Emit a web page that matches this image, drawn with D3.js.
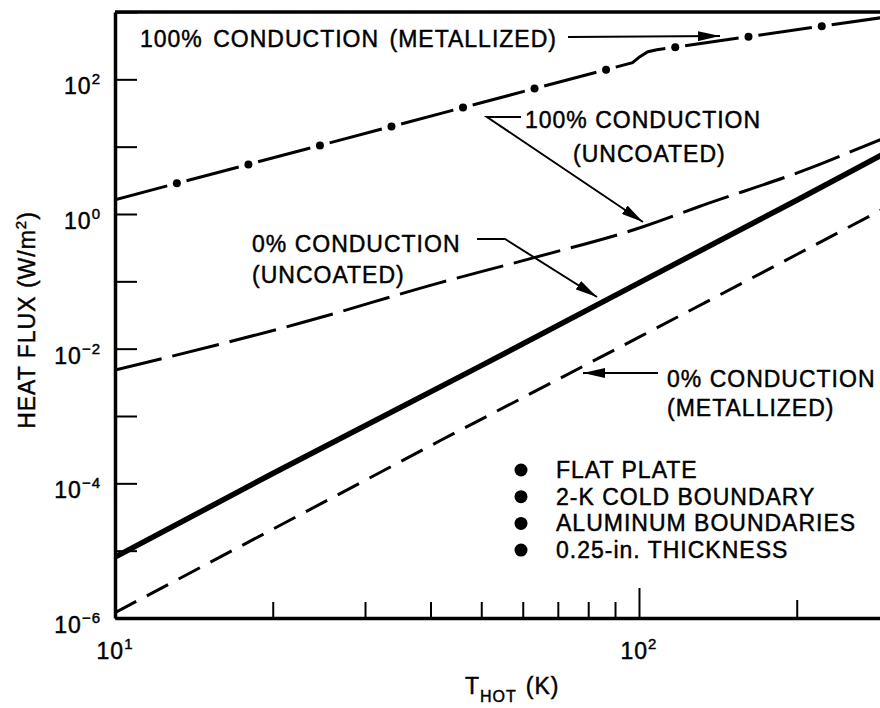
<!DOCTYPE html>
<html>
<head>
<meta charset="utf-8">
<script src="https://d3js.org/d3.v7.min.js"></script>
<title>heat flux vs T hot</title>
<style>
  body { margin: 0; background: #fff; }
  svg { display: block; font-family: "Liberation Sans", Arial, Helvetica, sans-serif; }
  text { fill: #000; stroke: #000; stroke-width: 0.45px; letter-spacing: 1px; }
</style>
</head>
<body>
<svg id="chart" width="880" height="708"></svg>
<script>
// values: T_HOT (K) and heat flux (W/m^2)
const metal100T = [10, 97.2, 100.4, 104, 108.2, 300];
const metal100Q = [1.63, 177, 217, 257, 275, 855];

const uncoat100T = [10, 22.6, 41.6, 62.8, 101.8, 130, 215, 288, 300];
const uncoat100Q = [0.0048, 0.024, 0.095, 0.223, 0.646, 1.28, 5.0, 12.6, 14.3];

const uncoat0T = [10, 20, 50, 100, 200, 300];
const uncoat0Q = [8e-6, 1.4e-4, 5.6e-3, 0.095, 1.6, 8.6];

const metal0T = [10, 41.6, 100, 200, 300];
const metal0Q = [1.2e-6, 4.25e-4, 0.0148, 0.25, 1.32];

const yTicks = [1e-6, 1e-5, 1e-4, 1e-3, 1e-2, 1e-1, 1e0, 1e1, 1e2, 1e3];
const yLabelExp = [-6, -4, -2, 0, 2];
const xTicks = [20, 30, 40, 50, 60, 70, 80, 90, 100, 200];
const xLabelExp = [1, 2];
const legendItems = ["FLAT PLATE", "2-K COLD BOUNDARY", "ALUMINUM BOUNDARIES", "0.25-in. THICKNESS"];

const svg = d3.select("#chart");

const x = d3.scaleLog().domain([10, 300]).range([115, 889]);
const y = d3.scaleLog().domain([1e-6, 1e3]).range([618, 12]);

const zip = (a, b) => a.map((d, i) => [d, b[i]]);

svg.append("defs").append("marker")
    .attr("id", "head")
    .attr("viewBox", "0 -5 22 10")
    .attr("refX", 22)
    .attr("refY", 0)
    .attr("markerUnits", "userSpaceOnUse")
    .attr("markerWidth", 22)
    .attr("markerHeight", 10)
    .attr("orient", "auto")
    .append("path")
    .attr("d", "M0,-5L22,0L0,5Z")
    .attr("fill", "#000");

svg.select("defs").append("clipPath").attr("id", "plot")
    .append("rect")
    .attr("x", x(10)).attr("y", y(1e3))
    .attr("width", x(300) - x(10)).attr("height", y(1e-6) - y(1e3));

// axes
const yAxis = d3.axisLeft(y).tickValues(yTicks).tickSizeInner(-22).tickSizeOuter(0).tickFormat("");
const gy = svg.append("g").attr("transform", `translate(${x(10)},0)`).call(yAxis);

const xAxis = d3.axisBottom(x).tickValues(xTicks).tickSizeInner(-16).tickSizeOuter(0).tickFormat("");
const gx = svg.append("g").attr("transform", `translate(0,${y(1e-6)})`).call(xAxis);
gx.selectAll(".tick line").filter(d => d === 100).attr("y2", -30);
gx.selectAll(".tick line").filter(d => d === 200).attr("y2", -18);

[gx, gy].forEach(g => {
    g.select(".domain").attr("stroke", "#000").attr("stroke-width", 3.5);
    g.selectAll(".tick line").attr("stroke", "#000").attr("stroke-width", 2);
});

svg.append("line")
    .attr("x1", x(10)).attr("x2", x(300))
    .attr("y1", y(1e3)).attr("y2", y(1e3))
    .attr("stroke", "#000").attr("stroke-width", 3.5);

// tick labels
const yl = svg.append("g").selectAll("text")
    .data(yLabelExp)
    .join("text")
    .attr("x", 101)
    .attr("y", d => y(Math.pow(10, d)) + 15)
    .attr("text-anchor", "end")
    .attr("font-size", 23);
yl.append("tspan").text("10");
yl.append("tspan").attr("dy", -10).attr("font-size", 15).text(d => d < 0 ? "\u2212" + (-d) : d);

const xl = svg.append("g").selectAll("text")
    .data(xLabelExp)
    .join("text")
    .attr("x", d => x(Math.pow(10, d)))
    .attr("y", 659)
    .attr("text-anchor", "middle")
    .attr("font-size", 23);
xl.append("tspan").text("10");
xl.append("tspan").attr("dy", -10).attr("font-size", 15).text(d => d);

// axis titles
const yt = svg.append("text")
    .attr("transform", "translate(35,320) rotate(-90)")
    .attr("text-anchor", "middle")
    .attr("font-size", 23);
yt.append("tspan").text("HEAT FLUX (W/m");
yt.append("tspan").attr("dy", -9).attr("font-size", 15).text("2");
yt.append("tspan").attr("dy", 9).text(")");

const xt = svg.append("text")
    .attr("x", 465).attr("y", 694)
    .attr("font-size", 23);
xt.append("tspan").text("T");
xt.append("tspan").attr("dy", 8).attr("font-size", 16).text("HOT");
xt.append("tspan").attr("dy", -8).attr("dx", 9).text("(K)");

// curves
const line = d3.line().x(d => x(d[0])).y(d => y(d[1])).curve(d3.curveMonotoneX);
const straight = d3.line().x(d => x(d[0])).y(d => y(d[1]));
const curves = svg.append("g").attr("clip-path", "url(#plot)").attr("fill", "none").attr("stroke", "#000");

const metal100 = curves.append("path")
    .attr("d", straight(zip(metal100T, metal100Q)))
    .attr("stroke-width", 3)
    .attr("stroke-dasharray", "54 20");

curves.append("path")
    .attr("d", line(zip(uncoat100T, uncoat100Q)))
    .attr("stroke-width", 3)
    .attr("stroke-dasharray", "48 11");

curves.append("path")
    .attr("d", straight(zip(uncoat0T, uncoat0Q)))
    .attr("stroke-width", 5.5);

curves.append("path")
    .attr("d", straight(zip(metal0T, metal0Q)))
    .attr("stroke-width", 3)
    .attr("stroke-dasharray", "24 12");

// dots of the dash-dot line sit in the gaps
const node = metal100.node();
const len = node.getTotalLength();
const dots = d3.range(64, len, 74).map(s => node.getPointAtLength(s));
svg.append("g").attr("clip-path", "url(#plot)").selectAll("circle")
    .data(dots)
    .join("circle")
    .attr("cx", d => d.x)
    .attr("cy", d => d.y)
    .attr("r", 4)
    .attr("fill", "#000");

// annotations
const ann = svg.append("g").attr("font-size", 23);
ann.append("text").attr("x", 140).attr("y", 47).attr("word-spacing", 3).text("100% CONDUCTION (METALLIZED)");
ann.append("text").attr("x", 525).attr("y", 128).text("100% CONDUCTION");
ann.append("text").attr("x", 573).attr("y", 162).text("(UNCOATED)");
ann.append("text").attr("x", 252).attr("y", 252).text("0% CONDUCTION");
ann.append("text").attr("x", 252).attr("y", 283).text("(UNCOATED)");
ann.append("text").attr("x", 667).attr("y", 387).text("0% CONDUCTION");
ann.append("text").attr("x", 667).attr("y", 416).text("(METALLIZED)");

const arrows = [
    [[568, 37], [720, 36]],
    [[521, 117], [487, 117], [643, 222]],
    [[477, 239], [505, 239], [597, 297]],
    [[658, 373], [583, 373]]
];
svg.append("g").selectAll("path")
    .data(arrows)
    .join("path")
    .attr("d", d3.line())
    .attr("fill", "none")
    .attr("stroke", "#000")
    .attr("stroke-width", 2)
    .attr("marker-end", "url(#head)");

// legend
const leg = svg.append("g").selectAll("g")
    .data(legendItems)
    .join("g")
    .attr("transform", (d, i) => `translate(521,${478 + i * 26.7})`);
leg.append("circle").attr("cx", 0).attr("cy", -8).attr("r", 6.5).attr("fill", "#000");
leg.append("text").attr("x", 35).attr("y", 0).attr("font-size", 23).text(d => d);
</script>
</body>
</html>
